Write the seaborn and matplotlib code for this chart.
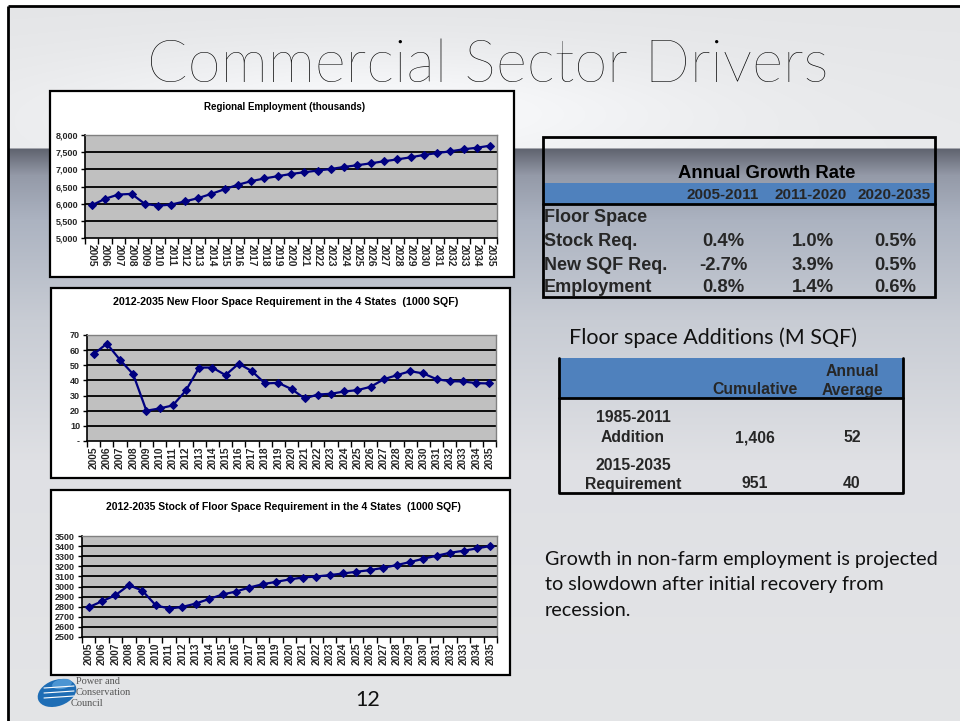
import numpy as np
import pandas as pd
import matplotlib
matplotlib.use("Agg")
import matplotlib.pyplot as plt
import seaborn as sns
from matplotlib.patches import Rectangle, Ellipse
from matplotlib.ticker import FuncFormatter, FixedLocator

# ---------------- data ----------------
years = [str(y) for y in range(2005, 2036)]
employment = [5950, 6140, 6265, 6285, 5995, 5940, 5975, 6065, 6160, 6285,
              6420, 6550, 6655, 6735, 6800, 6865, 6915, 6965, 7010, 7070,
              7120, 7175, 7235, 7290, 7350, 7420, 7475, 7525, 7585, 7630, 7690]
new_floor_space = [57.3, 64.3, 53.6, 44.1, 20.0, 21.5, 23.5, 33.4, 48.5, 48.5,
                   43.5, 51.1, 46.1, 38.0, 38.4, 34.3, 28.1, 30.7, 31.2, 32.7,
                   33.6, 35.8, 40.8, 43.5, 46.1, 44.6, 40.8, 39.5, 39.3, 38.2, 38.0]
floor_stock = [2795, 2854, 2914, 3013, 2960, 2815, 2781, 2798, 2831, 2877,
               2921, 2950, 2990, 3023, 3046, 3070, 3089, 3099, 3113, 3129,
               3146, 3162, 3185, 3212, 3242, 3275, 3305, 3334, 3354, 3377, 3401]

emp_ticks = [5000, 5500, 6000, 6500, 7000, 7500, 8000]
new_ticks = [0, 10, 20, 30, 40, 50, 60, 70]
stock_ticks = list(range(2500, 3501, 100))

growth_periods = ["2005-2011", "2011-2020", "2020-2035"]
growth_labels = ["Stock Req.", "New SQF Req.", "Employment"]
growth_stock = ["0.4%", "1.0%", "0.5%"]
growth_new = ["-2.7%", "3.9%", "0.5%"]
growth_emp = ["0.8%", "1.4%", "0.6%"]

add_periods = ["1985-2011", "2015-2035"]
add_kinds = ["Addition", "Requirement"]
add_cumulative = ["1,406", "951"]
add_annual = ["52", "40"]

# ---------------- figure ----------------
sns.set_theme(style="white")
plt.rcParams['font.family'] = ['Liberation Sans', 'DejaVu Sans']
W, H = 960, 721
fig = plt.figure(figsize=(9.6, 7.21), dpi=100)
fig.patch.set_facecolor('white')

bg = fig.add_axes([0, 0, 1, 1], zorder=0)
bg.set_xlim(0, W)
bg.set_ylim(H, 0)
bg.axis('off')

# slide background gradient
ys = np.arange(H, dtype=float)
xs = np.arange(W, dtype=float)
sy = [0, 147, 149, 175, 220, 320, 460, 721]
cr = [228, 232, 96, 148, 172, 200, 223, 228]
cg = [229, 233, 100, 154, 179, 204, 224, 229]
cb = [231, 235, 112, 168, 193, 212, 228, 231]
img = np.zeros((H, W, 3))
for k, c in enumerate([cr, cg, cb]):
    img[:, :, k] = np.interp(ys, sy, c)[:, None]
hl = 18 * np.exp(-((xs[None, :] - 380) / 320) ** 2) * np.exp(-((ys[:, None] - 110) / 60) ** 2)
top = ys < 148
img[top, :, :] += hl[top, :, None]
img = np.clip(img / 255.0, 0, 1)
img[:6, :, :] = 1.0
img[:, :8, :] = 1.0
bg.imshow(img, extent=(0, W, H, 0), aspect='auto', zorder=0, interpolation='bilinear')
bg.plot([8, 8], [6, H], color='black', lw=2, zorder=1, solid_capstyle='butt')
bg.plot([8, W], [6, 6], color='black', lw=2, zorder=1, solid_capstyle='butt')

# slide title
bg.text(488, 66, "Commercial Sector Drivers", ha='center', va='center',
        fontsize=43, family=['Lato', 'DejaVu Sans'], fontweight='light', color='black', zorder=2)


def px_axes(x0, y0, x1, y1):
    return fig.add_axes([x0 / W, 1 - y1 / H, (x1 - x0) / W, (y1 - y0) / H], zorder=2)


def chart(box, plot, values, yticks, fmt, title, title_y, rot, title_size):
    bx0, by0, bx1, by1 = box
    bg.add_patch(Rectangle((bx0, by0), bx1 - bx0, by1 - by0, facecolor='white',
                           edgecolor='black', lw=1.6, zorder=3))
    bg.text((plot[0] + plot[2]) / 2 - 6, title_y, title, ha='center', va='center',
            fontsize=title_size, fontweight='bold', color='black', zorder=4)
    ax = px_axes(*plot)
    ax.set_facecolor('#c0c0c0')
    df = pd.DataFrame({'year': years, 'value': values})
    sns.lineplot(data=df, x='year', y='value', ax=ax, color='#000080', lw=1.6,
                 marker='D', markersize=3.8, markeredgecolor='#000080', sort=False, zorder=3)
    ax.set_xlim(-0.5, len(years) - 0.5)
    ax.set_ylim(yticks[0], yticks[-1])
    ax.set_yticks(yticks)
    ax.yaxis.set_major_formatter(FuncFormatter(fmt))
    for t in yticks[1:-1]:
        ax.axhline(t, color='black', lw=1.3, zorder=1)
    ax.set_xticks(range(len(years)))
    ax.set_xticklabels(years, rotation=rot, fontsize=7.3, fontweight='bold')
    ax.xaxis.set_minor_locator(FixedLocator(np.arange(-0.5, len(years), 1.0)))
    ax.tick_params(axis='x', which='major', length=0, pad=4, bottom=True)
    ax.tick_params(axis='x', which='minor', length=4, width=1, color='black',
                   direction='out', bottom=True)
    ax.tick_params(axis='y', which='major', length=3, width=1, color='black',
                   direction='out', left=True, labelsize=6.5, pad=2)
    for lab in ax.get_yticklabels():
        lab.set_fontweight('bold')
    ax.set_xlabel('')
    ax.set_ylabel('')
    for s in ['left', 'bottom']:
        ax.spines[s].set_color('black')
        ax.spines[s].set_linewidth(1.2)
    for s in ['top', 'right']:
        ax.spines[s].set_color('#808080')
        ax.spines[s].set_linewidth(1.0)
    return ax


chart((50, 91, 514, 277), (85, 135, 497, 238), employment, emp_ticks,
      lambda v, p: f"{v:,.0f}", "Regional Employment (thousands)", 107, 270, 7.0)
chart((51, 288, 510, 478), (87, 335, 496, 441), new_floor_space, new_ticks,
      lambda v, p: "-" if v == 0 else f"{v:.0f}",
      "2012-2035 New Floor Space Requirement in the 4 States  (1000 SQF)", 302, 90, 7.7)
chart((51, 490, 510, 675), (82, 536, 497, 637), floor_stock, stock_ticks,
      lambda v, p: f"{v:.0f}",
      "2012-2035 Stock of Floor Space Requirement in the 4 States  (1000 SQF)", 507, 90, 7.5)

# ---------------- Annual Growth Rate table ----------------
blue = '#4f81bd'
bg.add_patch(Rectangle((543, 183), 392, 21, facecolor=blue, edgecolor='none', zorder=2))
bg.add_patch(Rectangle((543, 137), 392, 160, facecolor='none', edgecolor='black', lw=2, zorder=3))
bg.plot([543, 935], [204, 204], color='black', lw=2, zorder=3)
bg.text(767, 173, "Annual Growth Rate", ha='center', va='center', fontsize=13.3,
        fontweight='bold', color='black', zorder=4)
col_x = [723, 811, 894]
for cx, per in zip(col_x, growth_periods):
    bg.text(cx, 195, per, ha='center', va='center', fontsize=11, fontweight='bold', zorder=4)
bg.text(544, 218, "Floor Space", ha='left', va='center', fontsize=13, fontweight='bold', zorder=4)
row_y = [242, 265, 288]
for ry, lab, vals in zip(row_y, growth_labels, [growth_stock, growth_new, growth_emp]):
    bg.text(544, ry, lab, ha='left', va='center', fontsize=13, fontweight='bold', zorder=4)
    for cx, v in zip([723, 813, 895], vals):
        bg.text(cx, ry, v, ha='center', va='center', fontsize=13.3, fontweight='bold', zorder=4)

# ---------------- Floor space additions table ----------------
bg.text(569, 338, "Floor space Additions (M SQF)", ha='left', va='center', fontsize=15.5,
        family=['Lato', 'DejaVu Sans'], color='#111111', zorder=4)
bg.add_patch(Rectangle((559, 358), 344, 40, facecolor=blue, edgecolor='none', zorder=2))
bg.plot([559, 559, 903, 903], [358, 493, 493, 358], color='black', lw=2, zorder=3)
bg.plot([559, 903], [398, 398], color='black', lw=2, zorder=3)
fs2 = 11.3
bg.text(755, 390, "Cumulative", ha='center', va='center', fontsize=fs2, fontweight='bold', zorder=4)
bg.text(852, 371, "Annual", ha='center', va='center', fontsize=fs2, fontweight='bold', zorder=4)
bg.text(852, 390, "Average", ha='center', va='center', fontsize=fs2, fontweight='bold', zorder=4)
for (y1, y2), per, kind, cum, ann in zip([(418, 438), (465, 484)], add_periods, add_kinds,
                                        add_cumulative, add_annual):
    bg.text(633, y1, per, ha='center', va='center', fontsize=fs2, fontweight='bold', zorder=4)
    bg.text(633, y2, kind, ha='center', va='center', fontsize=fs2, fontweight='bold', zorder=4)
    bg.text(755, y2, cum, ha='center', va='center', fontsize=fs2, fontweight='bold', zorder=4)
    bg.text(852, y2, ann, ha='center', va='center', fontsize=fs2, fontweight='bold', zorder=4)

# ---------------- body text ----------------
body = ["Growth in non-farm employment is projected",
        "to slowdown after initial recovery from",
        "recession."]
for i, line in enumerate(body):
    bg.text(545, 559 + 25.5 * i, line, ha='left', va='center', fontsize=14.2,
            family=['Lato', 'DejaVu Sans'], color='#111111', zorder=4)

# page number
bg.text(368, 700, "12", ha='center', va='center', fontsize=15.5,
        family=['Lato', 'DejaVu Sans'], color='#111111', zorder=4)

# logo
bg.add_patch(Ellipse((57, 693), 40, 26, angle=-20, facecolor='#1e6db5', edgecolor='none', zorder=4))
bg.add_patch(Ellipse((62, 684), 20, 10, angle=-10, facecolor='#4b95d3', edgecolor='none', zorder=4))
for dy in (-2, 3, 8):
    bg.plot([44, 74], [690 + dy, 688 + dy], color='white', lw=0.8, zorder=5)
for i, t in enumerate(["Power and", "Conservation", "Council"]):
    bg.text(76 - (5 if i == 2 else 0), 681 + 11.5 * i, t, ha='left', va='center', fontsize=7.5,
            family=['Liberation Serif', 'DejaVu Serif'], color='#555555', zorder=5)

fig.savefig("out.png", dpi=100)
